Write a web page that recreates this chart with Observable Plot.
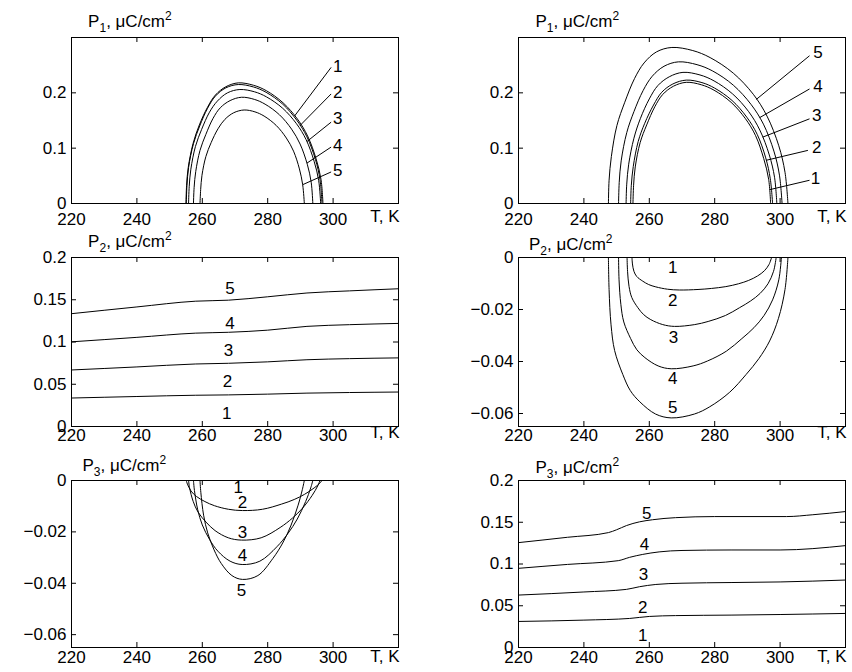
<!DOCTYPE html>
<html><head><meta charset="utf-8">
<script src="https://cdn.jsdelivr.net/npm/d3@7"></script>
<script src="https://cdn.jsdelivr.net/npm/@observablehq/plot@0.6"></script>
<style>
html,body{margin:0;padding:0;background:#fff;}
#wrap{position:relative;width:852px;height:672px;overflow:hidden;background:#fff;}
</style></head><body><div id="wrap"></div>
<script>
// ---------- tick values ----------
const xLabelTicks = [220, 240, 260, 280, 300];
const xInnerTicks = [240, 260, 280, 300];
const yTicksP1 = [0, 0.1, 0.2];
const yInnerP1 = [0.1, 0.2];
const yTicksPos = [0, 0.05, 0.1, 0.15, 0.2];
const yInnerPos = [0.05, 0.1, 0.15];
const yTicksNeg = [0, -0.02, -0.04, -0.06];
const yInnerNeg = [-0.02, -0.04, -0.06];

// zero part of every curve outside its ordered range
const zeroLine = [[220,0],[320,0]];

// ---------- P1, left panel: curves 1..5, [T, P] ----------
const P1_left = [
  [[255.0,0],[255.2,0.033],[255.7,0.065],[257.2,0.109],[259.1,0.142],[261.6,0.174],[264.0,0.196],[267.2,0.211],[271.0,0.218],[275.7,0.2136],[279.6,0.2038],[284.7,0.182],[289.1,0.1526],[292.2,0.1221],[294.8,0.0807],[296.3,0.0436],[296.9,0]],
  [[255.1,0],[255.3,0.032],[255.8,0.065],[257.3,0.108],[259.2,0.14],[261.6,0.172],[264.0,0.194],[267.2,0.209],[271.0,0.215],[275.6,0.2107],[279.5,0.201],[284.6,0.1795],[288.9,0.1505],[292.0,0.1204],[294.6,0.0796],[296.0,0.043],[296.6,0]],
  [[255.8,0],[256.0,0.031],[256.5,0.062],[257.9,0.103],[259.8,0.134],[262.2,0.165],[264.6,0.185],[267.7,0.2],[271.5,0.206],[275.95,0.2019],[279.65,0.1926],[284.6,0.172],[288.8,0.1442],[291.75,0.1154],[294.2,0.0762],[295.6,0.0412],[296.2,0]],
  [[257.3,0],[257.5,0.029],[258.0,0.058],[259.3,0.096],[261.1,0.125],[263.3,0.154],[265.5,0.173],[268.5,0.186],[272.0,0.192],[275.9,0.1882],[279.2,0.1795],[283.6,0.1603],[287.3,0.1344],[289.9,0.1075],[292.1,0.071],[293.3,0.0384],[293.8,0]],
  [[259.3,0],[259.5,0.025],[259.9,0.051],[261.1,0.085],[262.7,0.11],[264.8,0.135],[266.9,0.152],[269.6,0.164],[272.8,0.169],[276.1,0.1656],[278.9,0.158],[282.6,0.1411],[285.7,0.1183],[287.9,0.0946],[289.7,0.0625],[290.7,0.0338],[291.2,0]]
];
const P1_left_labels = [[301.4,0.248,"1"],[301.4,0.2,"2"],[301.4,0.153,"3"],[301.4,0.104,"4"],[301.4,0.059,"5"]];
const P1_left_leaders = [[299.4,0.246,288.2,0.158],[299.4,0.198,289.9,0.141],[299.4,0.147,292.0,0.112],[299.4,0.102,292.0,0.073],[299.4,0.057,290.7,0.034]];

// ---------- P1, right panel ----------
const P1_right = [
  [[255.0,0],[255.2,0.033],[255.7,0.066],[257.2,0.11],[259.2,0.142],[261.7,0.175],[264.1,0.197],[267.4,0.212],[271.3,0.219],[275.9,0.2146],[279.8,0.2048],[285.0,0.1829],[289.4,0.1533],[292.5,0.1226],[295.0,0.081],[296.5,0.0438],[297.1,0]],
  [[254.3,0],[254.5,0.033],[255.1,0.067],[256.6,0.112],[258.6,0.145],[261.3,0.178],[263.8,0.201],[267.2,0.216],[271.3,0.223],[276.1,0.2185],[280.0,0.2085],[285.3,0.1862],[289.8,0.1561],[293.0,0.1249],[295.6,0.0825],[297.0,0.0446],[297.7,0]],
  [[252.9,0],[253.1,0.035],[253.7,0.071],[255.3,0.118],[257.3,0.154],[260.0,0.189],[262.6,0.213],[266.1,0.229],[270.3,0.237],[275.5,0.2323],[279.8,0.2216],[285.5,0.1979],[290.4,0.1659],[293.8,0.1327],[296.7,0.0877],[298.3,0.0474],[299.0,0]],
  [[250.6,0],[250.8,0.038],[251.4,0.077],[253.1,0.128],[255.3,0.166],[258.1,0.204],[260.9,0.23],[264.5,0.248],[268.9,0.256],[274.6,0.2509],[279.4,0.2394],[285.7,0.2138],[291.1,0.1792],[294.9,0.1434],[298.1,0.0947],[299.8,0.0512],[300.6,0]],
  [[247.5,0],[247.7,0.042],[248.4,0.085],[250.1,0.141],[252.5,0.183],[255.5,0.226],[258.4,0.254],[262.2,0.274],[266.9,0.282],[273.3,0.2764],[278.6,0.2637],[285.7,0.2355],[291.8,0.1974],[296.0,0.1579],[299.6,0.1043],[301.5,0.0564],[302.4,0]]
];
const P1_right_labels = [[311.6,0.273,"5"],[311.6,0.211,"4"],[311.2,0.159,"3"],[311.2,0.102,"2"],[310.8,0.045,"1"]];
const P1_right_leaders = [[309,0.267,292.7,0.188],[309,0.207,293.7,0.155],[309,0.153,294.7,0.12],[308.5,0.096,295.7,0.078],[309,0.042,296.8,0.025]];

// ---------- P2, left panel ----------
const P2_left = [
  [[220,0],[320,0]],
  [[220,0.0337],[240,0.0355],[258,0.037],[268,0.0374],[280,0.0383],[292,0.0395],[305,0.0402],[320,0.0408]],
  [[220,0.0669],[240,0.0705],[258,0.074],[268,0.0748],[280,0.0765],[292,0.079],[305,0.0803],[320,0.0812]],
  [[220,0.1002],[240,0.1055],[258,0.1105],[268,0.1115],[280,0.114],[292,0.1185],[305,0.1205],[320,0.122]],
  [[220,0.1335],[240,0.1415],[258,0.1483],[268,0.1495],[280,0.1535],[292,0.158],[305,0.1605],[320,0.163]]
];
const P2_left_labels = [[267.5,0.015,"1"],[267.7,0.0535,"2"],[268,0.0899,"3"],[268.5,0.122,"4"],[268.5,0.163,"5"]];

// ---------- P2, right panel (curve 1 is zero everywhere) ----------
const P2_right = [
  [[220,0],[320,0]],
  [[254.7,0],[254.85,-0.0025],[255.3,-0.0053],[256.15,-0.0073],[258.0,-0.0091],[259.8,-0.0104],[262.0,-0.0113],[265.6,-0.0122],[269.2,-0.0125],[274.9,-0.0123],[279.0,-0.0119],[283.4,-0.0112],[287.3,-0.0101],[290.4,-0.0088],[293.1,-0.0071],[295.2,-0.0051],[296.6,-0.0027],[297.4,0]],
  [[253.2,0],[253.35,-0.0053],[253.8,-0.0111],[254.65,-0.0154],[256.5,-0.0193],[258.3,-0.022],[260.45,-0.0239],[264.1,-0.0258],[267.7,-0.0265],[273.9,-0.0258],[278.0,-0.0246],[283.3,-0.0223],[287.6,-0.0193],[291.0,-0.0167],[293.9,-0.0138],[296.3,-0.0101],[298.0,-0.0053],[298.8,0]],
  [[250.6,0],[250.75,-0.0086],[251.3,-0.018],[252.2,-0.0248],[254.3,-0.0312],[256.2,-0.0355],[258.65,-0.0385],[262.7,-0.0417],[266.7,-0.0428],[273.4,-0.0417],[277.8,-0.0398],[283.6,-0.036],[288.3,-0.0312],[292.0,-0.027],[295.1,-0.0223],[297.7,-0.0163],[299.6,-0.0086],[300.4,0]],
  [[247.5,0],[247.7,-0.0123],[248.3,-0.0259],[249.4,-0.0358],[251.9,-0.045],[254.2,-0.0512],[257.1,-0.0555],[261.9,-0.0602],[266.7,-0.0617],[273.8,-0.0602],[278.5,-0.0574],[284.6,-0.0518],[289.6,-0.045],[293.5,-0.0389],[296.8,-0.0321],[299.5,-0.0234],[301.5,-0.0123],[302.4,0]]
];
const P2_right_labels = [[267.2,-0.0039,"1"],[267.2,-0.0165,"2"],[267.4,-0.0308,"3"],[267.2,-0.0465,"4"],[267.2,-0.0576,"5"]];

// ---------- P3, left panel (curve 1 is zero everywhere) ----------
const P3_left = [
  [[220,0],[320,0]],
  [[255.1,0],[255.45,-0.0014],[256.55,-0.0041],[258.2,-0.0062],[260.8,-0.0082],[263.7,-0.0098],[268.0,-0.0112],[272.3,-0.0117],[278.4,-0.0112],[284.2,-0.0092],[288.1,-0.0074],[291.25,-0.0054],[294.2,-0.0029],[295.9,-0.0011],[296.6,0]],
  [[255.8,0],[256.1,-0.0028],[257.2,-0.0081],[258.7,-0.0123],[261.15,-0.0162],[263.9,-0.0195],[267.95,-0.0223],[272.0,-0.0232],[278.0,-0.0223],[283.8,-0.0183],[287.6,-0.0146],[290.7,-0.0107],[293.6,-0.0058],[295.3,-0.0021],[296.0,0]],
  [[257.3,0],[257.6,-0.0039],[258.6,-0.0114],[260.0,-0.0173],[262.2,-0.0229],[264.75,-0.0275],[268.5,-0.0314],[272.2,-0.0327],[277.6,-0.0314],[282.8,-0.0258],[286.2,-0.0206],[289.05,-0.015],[291.6,-0.0082],[293.15,-0.0029],[293.8,0]],
  [[259.3,0],[259.55,-0.0046],[260.4,-0.0135],[261.65,-0.0204],[263.6,-0.027],[265.8,-0.0323],[269.05,-0.037],[272.3,-0.0385],[277.0,-0.037],[281.55,-0.0304],[284.6,-0.0243],[287.05,-0.0177],[289.3,-0.0096],[290.6,-0.0035],[291.2,0]]
];
const P3_left_labels = [[271,-0.0027,"1"],[272.3,-0.0085,"2"],[272.3,-0.0202,"3"],[272.3,-0.0293,"4"],[272,-0.0427,"5"]];

// ---------- P3, right panel ----------
const P3_right = [
  [[220,0],[320,0]],
  [[220,0.0312],[240,0.0328],[254,0.0348],[260,0.0372],[268,0.0382],[285,0.0388],[300,0.0395],[320,0.0408]],
  [[220,0.0628],[240,0.0665],[253,0.0696],[257,0.0728],[262,0.0755],[270,0.077],[285,0.0778],[300,0.0785],[320,0.0808]],
  [[220,0.0948],[235,0.0995],[250.5,0.104],[254,0.108],[258,0.1115],[263,0.1145],[270,0.1162],[285,0.1168],[300,0.1168],[320,0.122]],
  [[220,0.1256],[235,0.132],[247.5,0.1376],[250,0.141],[253,0.146],[257,0.1505],[261,0.153],[268,0.1555],[280,0.1568],[302,0.1568],[310,0.159],[320,0.1628]]
];
const P3_right_labels = [[258,0.0148,"1"],[258,0.0476,"2"],[258.2,0.0876,"3"],[258.5,0.1228,"4"],[259.2,0.161,"5"]];

// ---------- drawing ----------
const FONT = "'Liberation Sans', Arial, Helvetica, sans-serif";
const fmt = d => d === 0 ? "0" : (d < 0 ? "\u2212" : "") + String(+Math.abs(d).toFixed(3));
const toRows = curves => curves.flatMap((pts, i) => pts.map(([T, P]) => ({T, P, curve: i + 1})));

function panel(cfg) {
  const W = 426, H = 224;
  const innerW = W - cfg.ml - cfg.mr;
  const innerH = H - cfg.mt - cfg.mb;
  const marks = [
    Plot.line(zeroLine, {x: d => d[0], y: d => d[1], stroke: "#000", strokeWidth: 1}),
    Plot.line(toRows(cfg.curves), {x: "T", y: "P", z: "curve", stroke: "#000", strokeWidth: 1, curve: cfg.curve || "catmull-rom"}),
    Plot.frame({stroke: "#000", strokeWidth: 1}),
    Plot.tickX(xInnerTicks, {x: d => d, insetTop: innerH - 5, stroke: "#000"}),
    Plot.tickX(xInnerTicks, {x: d => d, insetBottom: innerH - 5, stroke: "#000"}),
    Plot.tickY(cfg.yInner, {y: d => d, insetRight: innerW - 5, stroke: "#000"}),
    Plot.tickY(cfg.yInner, {y: d => d, insetLeft: innerW - 5, stroke: "#000"}),
    Plot.axisX(xLabelTicks, {tickSize: 0, tickPadding: cfg.xPad, fill: "#000", label: null}),
    Plot.axisY(cfg.yTicks, {tickSize: 0, tickPadding: 5, tickFormat: fmt, fill: "#000", label: null}),
    Plot.text(cfg.labels, {x: d => d[0], y: d => d[1], text: d => d[2], fill: "#000"}),
    Plot.text([cfg.ylabel], {text: d => d, frameAnchor: "top-left", dx: cfg.ylx, dy: -cfg.yly, textAnchor: "start", lineAnchor: "bottom", fill: "#000"}),
    Plot.text(["T, K"], {text: d => d, frameAnchor: "bottom-right", dx: 1, dy: cfg.tky, textAnchor: "end", lineAnchor: "bottom", fill: "#000"})
  ];
  if (cfg.leaders) {
    marks.push(Plot.link(cfg.leaders, {x1: d => d[0], y1: d => d[1], x2: d => d[2], y2: d => d[3], stroke: "#000", strokeWidth: 1}));
  }
  const svg = Plot.plot({
    width: W, height: H,
    marginLeft: cfg.ml, marginRight: cfg.mr, marginTop: cfg.mt, marginBottom: cfg.mb,
    x: {domain: [220, 320]},
    y: {domain: cfg.ydomain},
    style: `font-family: ${FONT}; font-size: 17px; color: #000; background: transparent; overflow: visible;`,
    marks
  });
  // render the axis title with a real subscript and superscript
  d3.select(svg).selectAll("text").filter(function() { return this.textContent === cfg.ylabel; })
    .each(function() {
      const t = d3.select(this);
      t.text(null);
      t.append("tspan").text("P");
      t.append("tspan").attr("font-size", 12).attr("dy", 5).text(cfg.sub);
      t.append("tspan").attr("dy", -5).text(", \u03bcC/cm");
      t.append("tspan").attr("font-size", 12).attr("dy", -7).text("2");
    });
  svg.style.position = "absolute";
  svg.style.left = cfg.left + "px";
  svg.style.top = cfg.top + "px";
  svg.style.maxWidth = "none";
  document.getElementById("wrap").appendChild(svg);
}

const L = {left: 0, ml: 71, mr: 28};
const R = {left: 426, ml: 92, mr: 7};
const ROW1 = {top: 0, mt: 37, mb: 21, xPad: 9, tky: 18.4};
const ROW2 = {top: 224, mt: 33, mb: 22, xPad: 2, tky: 11.6};
const ROW3 = {top: 448, mt: 32, mb: 25, xPad: 3, tky: 14.3};

panel({...L, ...ROW1, curves: P1_left, ydomain: [0, 0.3], yTicks: yTicksP1, yInner: yInnerP1,
  labels: P1_left_labels, leaders: P1_left_leaders, ylabel: "P1, \u03bcC/cm2", sub: "1", ylx: 16.6, yly: 10.7});
panel({...R, ...ROW1, curves: P1_right, ydomain: [0, 0.3], yTicks: yTicksP1, yInner: yInnerP1,
  labels: P1_right_labels, leaders: P1_right_leaders, ylabel: "P1, \u03bcC/cm2", sub: "1", ylx: 17, yly: 10.7});
panel({...L, ...ROW2, curves: P2_left, ydomain: [0, 0.2], yTicks: yTicksPos, yInner: yInnerPos, curve: "monotone-x",
  labels: P2_left_labels, ylabel: "P2, \u03bcC/cm2", sub: "2", ylx: 16.6, yly: 10.6});
panel({...R, ...ROW2, curves: P2_right, ydomain: [-0.065, 0], yTicks: yTicksNeg, yInner: yInnerNeg,
  labels: P2_right_labels, ylabel: "P2, \u03bcC/cm2", sub: "2", ylx: 10.4, yly: 7.3});
panel({...L, ...ROW3, curves: P3_left, ydomain: [-0.065, 0], yTicks: yTicksNeg, yInner: yInnerNeg,
  labels: P3_left_labels, ylabel: "P3, \u03bcC/cm2", sub: "3", ylx: 11, yly: 9.6});
panel({...R, ...ROW3, curves: P3_right, ydomain: [0, 0.2], yTicks: yTicksPos, yInner: yInnerPos, curve: "monotone-x",
  labels: P3_right_labels, ylabel: "P3, \u03bcC/cm2", sub: "3", ylx: 17, yly: 7.3});
</script></body></html>
